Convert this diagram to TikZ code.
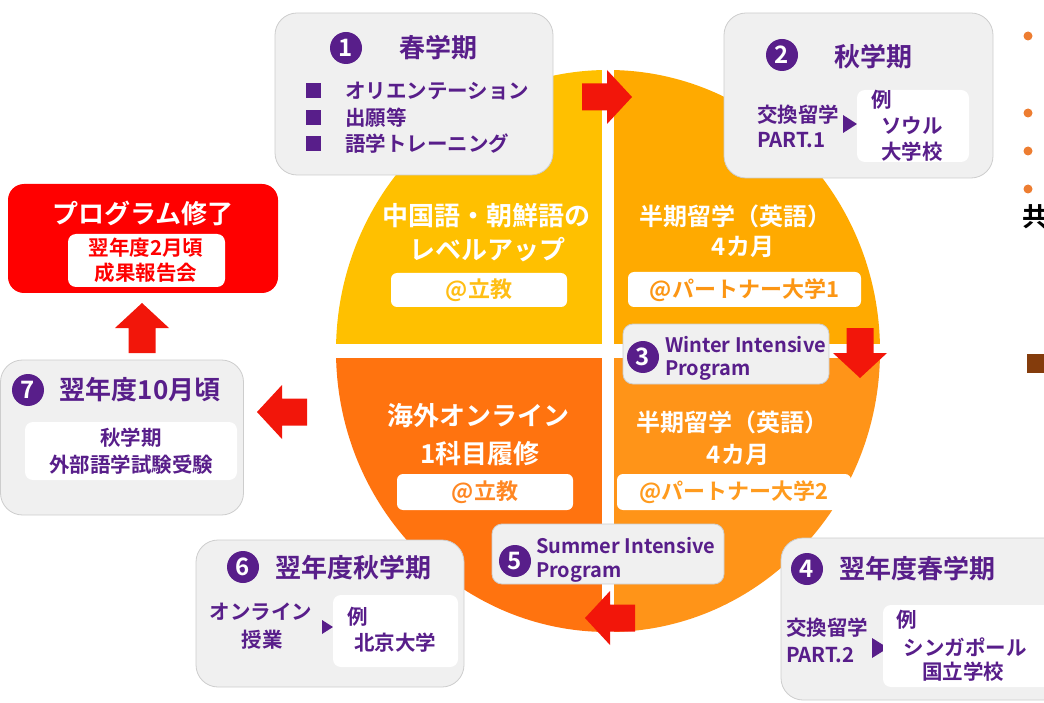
\documentclass[tikz,border=0pt]{standalone}
\usepackage{fontspec}
\setmainfont[BoldFont={Noto Sans CJK JP Bold}]{Noto Sans CJK JP}
\definecolor{purp}{RGB}{88,30,138}
\definecolor{boxgray}{RGB}{240,240,240}
\definecolor{boxline}{RGB}{205,205,205}
\definecolor{cTL}{RGB}{255,192,0}
\definecolor{cTR}{RGB}{255,170,0}
\definecolor{cBL}{RGB}{255,115,15}
\definecolor{cBR}{RGB}{255,148,24}
\definecolor{tTL}{RGB}{255,190,20}
\definecolor{tTR}{RGB}{252,150,20}
\definecolor{tBL}{RGB}{255,135,35}
\definecolor{tBR}{RGB}{255,155,30}
\definecolor{arrowred}{RGB}{242,22,10}
\definecolor{bulletor}{RGB}{237,125,49}
\definecolor{brownr}{RGB}{132,60,12}
\tikzset{
  graybox/.style={draw=boxline, line width=0.8pt, fill=boxgray, rounded corners=22pt},
  smallbox/.style={draw=boxline, line width=0.8pt, fill=boxgray, rounded corners=10pt},
  whitebox/.style={fill=white, rounded corners=8pt},
  tagbox/.style={fill=white, rounded corners=6pt},
  numcirc/.style={circle, fill=purp, text=white, minimum size=32pt, font=\fontsize{24}{24}\selectfont\bfseries},
  headtxt/.style={text=purp, font=\fontsize{26}{30}\selectfont\bfseries},
  bodytxt/.style={text=purp, font=\fontsize{20.5}{26}\selectfont\bfseries},
  circtxt/.style={text=white, font=\fontsize{26}{30}\selectfont\bfseries},
  circtxtb/.style={text=white, font=\fontsize{24}{28}\selectfont\bfseries},
  tagtxt/.style={font=\fontsize{22}{26}\selectfont\bfseries},
  engtxt/.style={text=purp, font=\fontsize{20}{24}\selectfont\bfseries},
  bigarrow/.pic={\fill[arrowred] (0,0) -- (-25,-27) -- (-25,-13.5) -- (-50,-13.5) -- (-50,13.5) -- (-25,13.5) -- (-25,27) -- cycle;}
}
\begin{document}
\begin{tikzpicture}[x=1pt,y=-1pt, every node/.style={inner sep=0pt, outer sep=0pt}]
\useasboundingbox (0,0) rectangle (1044,703);
\clip (0,0) rectangle (1044,703);
% circle quadrants
\fill[cTL] (608,351) -- (336,351) arc[start angle=180, end angle=270, x radius=272, y radius=281] -- cycle;
\fill[cTR] (608,351) -- (608,70) arc[start angle=270, end angle=360, x radius=272, y radius=281] -- cycle;
\fill[cBR] (608,351) -- (880,351) arc[start angle=0, end angle=90, x radius=272, y radius=281] -- cycle;
\fill[cBL] (608,351) -- (608,632) arc[start angle=90, end angle=180, x radius=272, y radius=281] -- cycle;
\fill[white] (602,60) rectangle (614,645);
\fill[white] (325,344) rectangle (890,358);
% circle texts
\node[circtxt] (tl1) at (486,216) {中国語・朝鮮語の};
\node[circtxt] (tl2) at (487,250) {レベルアップ};
\node[tagbox, minimum width=176pt, minimum height=34pt] (tlbox) at (479,290) {};
\node[tagtxt, text=tTL] (tltag) at (479,290) {@立教};
\node[circtxtb] (tr1) at (735,216) {半期留学（英語）};
\node[circtxtb] (tr2) at (743,247) {4カ月};
\node[tagbox, minimum width=233pt, minimum height=35pt] (trbox) at (744.5,289.5) {};
\node[tagtxt, text=tTR] (trtag) at (744.5,290) {@パートナー大学1};
\node[circtxt] (bl1) at (478,416) {海外オンライン};
\node[circtxt] (bl2) at (480,454) {1科目履修};
\node[tagbox, minimum width=176pt, minimum height=36pt] (blbox) at (485,492) {};
\node[tagtxt, text=tBL] (bltag) at (485,492) {@立教};
\node[circtxtb] (br1) at (732,422) {半期留学（英語）};
\node[circtxtb] (br2) at (738,455) {4カ月};
\node[tagbox, minimum width=234pt, minimum height=36pt] (brbox) at (734,492) {};
\node[tagtxt, text=tBR] (brtag) at (734,492) {@パートナー大学2};
% box 1
\node[graybox, minimum width=278pt, minimum height=162pt] (b1) at (414,94) {};
\node[numcirc] (n1) at (346,48) {1};
\node[headtxt] (h1) at (438,48) {春学期};
\foreach \yy/\tt/\nm in {91/オリエンテーション/a, 118/出願等/b, 144/語学トレーニング/c}{
  \node[fill=purp, minimum size=15pt] (sq\nm) at (313,\yy) {};
  \node[bodytxt, anchor=west] (t1\nm) at (345,\yy) {\tt};
}
% box 2
\node[graybox, minimum width=269pt, minimum height=165pt] (b2) at (858.5,95.5) {};
\node[numcirc] (n2) at (782,55) {2};
\node[headtxt] (h2) at (873,57) {秋学期};
\node[bodytxt, anchor=west] (b2a) at (757,115) {交換留学};
\node[bodytxt, anchor=west] (b2b) at (757,140) {PART.1};
\fill[purp] (843,115) -- (843,133) -- (857,124) -- cycle;
\node[whitebox, minimum width=112pt, minimum height=72pt] (w2) at (913,126) {};
\node[bodytxt, anchor=west] (w2a) at (871,100) {例};
\node[bodytxt] (w2b) at (912,126) {ソウル};
\node[bodytxt] (w2c) at (912,152) {大学校};
% box 3
\node[smallbox, minimum width=206pt, minimum height=60pt] (b3) at (726,354) {};
\node[numcirc] (n3) at (643,357) {3};
\node[engtxt, anchor=west] (b3a) at (665,345) {Winter Intensive};
\node[engtxt, anchor=west] (b3b) at (665,371) {Program};
% box 5
\node[smallbox, minimum width=232pt, minimum height=60pt] (b5) at (608,554) {};
\node[numcirc] (n5) at (515,561) {5};
\node[engtxt, anchor=west] (b5a) at (536,546) {Summer Intensive};
\node[engtxt, anchor=west] (b5b) at (536,573) {Program};
% box 4
\node[graybox, minimum width=289pt, minimum height=162pt] (b4) at (925.5,619) {};
\node[numcirc] (n4) at (807,569) {4};
\node[headtxt] (h4) at (917,569) {翌年度春学期};
\node[bodytxt, anchor=west] (b4a) at (786,628) {交換留学};
\node[bodytxt, anchor=west] (b4b) at (786,655) {PART.2};
\fill[purp] (872,638) -- (872,658) -- (888,648) -- cycle;
\node[whitebox, minimum width=169pt, minimum height=82pt] (w4) at (967.5,646) {};
\node[bodytxt, anchor=west] (w4a) at (896,620) {例};
\node[bodytxt] (w4b) at (965,647) {シンガポール};
\node[bodytxt] (w4c) at (963,672) {国立学校};
% box 6
\node[graybox, minimum width=268pt, minimum height=147pt] (b6) at (330,613.5) {};
\node[numcirc] (n6) at (243,567) {6};
\node[headtxt] (h6) at (353,568) {翌年度秋学期};
\node[bodytxt] (b6a) at (261,612) {オンライン};
\node[bodytxt] (b6b) at (262,640) {授業};
\fill[purp] (322,620) -- (322,634) -- (333,627) -- cycle;
\node[whitebox, minimum width=125pt, minimum height=72pt] (w6) at (395.5,631) {};
\node[bodytxt, anchor=west] (w6a) at (347,617) {例};
\node[bodytxt] (w6b) at (395,643) {北京大学};
% box 7
\node[graybox, minimum width=243pt, minimum height=155pt] (b7) at (122,437.5) {};
\node[numcirc] (n7) at (28,390) {7};
\node[headtxt] (h7) at (140,390) {翌年度10月頃};
\node[whitebox, minimum width=212pt, minimum height=58pt] (w7) at (131,451) {};
\node[bodytxt] (w7a) at (131,438) {秋学期};
\node[bodytxt] (w7b) at (131,465) {外部語学試験受験};
% program end box
\node[fill=red, rounded corners=16pt, minimum width=270pt, minimum height=109pt] (pe) at (143,238.5) {};
\node[circtxt] (peh) at (143,213) {プログラム修了};
\node[whitebox, minimum width=157pt, minimum height=53pt] (pew) at (146.5,260.5) {};
\node[bodytxt, text=red] (pea) at (146,248) {翌年度2月頃};
\node[bodytxt, text=red] (peb) at (146,273) {成果報告会};
% arrows
\pic at (632,97) {bigarrow};
\pic[rotate=-90] at (860,378) {bigarrow};
\pic[rotate=180] at (585,618) {bigarrow};
\pic[rotate=180] at (257,412) {bigarrow};
\pic[rotate=90] at (142,303) {bigarrow};
% right edge fragments
\foreach \yy in {36,113,151,189} \fill[bulletor] (1028,\yy) circle[radius=4.5];
\node[anchor=west, font=\fontsize{26}{30}\selectfont\bfseries] (kyo) at (1022,217) {共};
\fill[brownr] (1027,354) rectangle (1050,373);
\end{tikzpicture}
\end{document}
